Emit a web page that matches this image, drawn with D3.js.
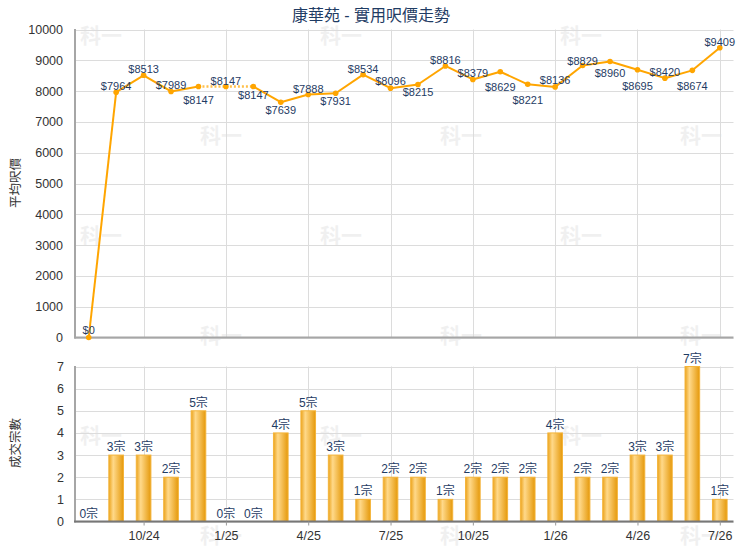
<!DOCTYPE html>
<html>
<head>
<meta charset="utf-8">
<script src="https://cdn.jsdelivr.net/npm/d3@7"></script>
<style>
  html, body { margin: 0; padding: 0; background: #fff; }
  svg { display: block; }
  text { font-family: "Liberation Sans", Arial, "Noto Sans CJK TC", sans-serif; }
</style>
</head>
<body>
<svg id="chart" width="740" height="550"></svg>
<script>
// ---------------- data ----------------
const months = ["8/24","9/24","10/24","11/24","12/24","1/25","2/25","3/25","4/25","5/25","6/25","7/25",
                "8/25","9/25","10/25","11/25","12/25","1/26","2/26","3/26","4/26","5/26","6/26","7/26"];
const avgPrice = [0,7964,8513,7989,8147,8147,8147,7639,7888,7931,8534,8096,
                  8215,8816,8379,8629,8221,8136,8829,8960,8695,8420,8674,9409];
const deals = [0,3,3,2,5,0,0,4,5,3,1,2,2,1,2,2,2,4,2,2,3,3,7,1];
const tickMonths = ["10/24","1/25","4/25","7/25","10/25","1/26","4/26","7/26"];
const priceTicks = [0,1000,2000,3000,4000,5000,6000,7000,8000,9000,10000];
const dealTicks = [0,1,2,3,4,5,6,7];
const titleText = "康華苑 - 實用呎價走勢";
const priceAxisTitle = "平均呎價";
const dealAxisTitle = "成交宗數";
const watermarkText = "科一";

// ---------------- layout ----------------
const W = 740, H = 550;
const left = 75, right = 733.5;
const top1 = 29.5, bot1 = 337.5;
const top2 = 366.5, bot2 = 521.5;
const navy = "#1f3c64";
const orange = "#ffa500";
// label vertical offsets (label centre relative to point), chosen to mimic placement
const labelDy = [-7,-6,-6,-6,13,-6,8,8,-6,8,-6,-7,8,-6,-6,15,16,-7,-5,12,16,-6,16,-6];

const svg = d3.select("#chart");
svg.append("rect").attr("width", W).attr("height", H).attr("fill", "#fff");

const x = d3.scalePoint().domain(months).range([left, right]).padding(0.5);
const xb = d3.scaleBand().domain(months).range([left, right]).paddingInner(0.43).paddingOuter(0.215);
const y1 = d3.scaleLinear().domain([0, 10000]).range([bot1, top1]);
const y2 = d3.scaleLinear().domain([0, 7]).range([bot2, top2]);

// gradient for bars
const defs = svg.append("defs");
const g = defs.append("linearGradient").attr("id", "barGrad").attr("x1", "0%").attr("x2", "100%").attr("y1", "0%").attr("y2", "0%");
g.append("stop").attr("offset", "0%").attr("stop-color", "#eba31c");
g.append("stop").attr("offset", "30%").attr("stop-color", "#ffd98a");
g.append("stop").attr("offset", "100%").attr("stop-color", "#e5990b");

// watermark (faint, tiled)
const wm = svg.append("g").attr("fill", "#000").attr("opacity", 0.055)
  .attr("font-size", 21).attr("font-weight", "bold").attr("text-anchor", "middle");
for (let r = 0; r < 6; r++) {
  for (let k = 0; k < 3; k++) {
    const cx = (r % 2 === 0 ? 101 : 221) + 240 * k;
    wm.append("text").attr("x", cx).attr("y", 35 + 100 * r).attr("dy", "0.36em")
      .style("font-family", '"Noto Sans CJK TC", sans-serif').text(watermarkText);
  }
}

// title
svg.append("text").attr("x", 371).attr("y", 15).attr("dy", "0.36em")
  .attr("text-anchor", "middle").attr("font-size", 16).attr("fill", navy).text(titleText);

// ---------- top chart grid ----------
const grid1 = svg.append("g");
grid1.selectAll("line.h").data(priceTicks).join("line")
  .attr("x1", left).attr("x2", right)
  .attr("y1", d => Math.round(y1(d)) + 0.5).attr("y2", d => Math.round(y1(d)) + 0.5)
  .attr("stroke", "#dcdcdc").attr("stroke-width", 1);
grid1.selectAll("line.v").data(tickMonths).join("line")
  .attr("x1", d => Math.round(x(d)) + 0.5).attr("x2", d => Math.round(x(d)) + 0.5)
  .attr("y1", top1).attr("y2", bot1)
  .attr("stroke", "#dcdcdc").attr("stroke-width", 1);

// top axis tick labels
svg.append("g").selectAll("text").data(priceTicks).join("text")
  .attr("x", 63).attr("y", d => y1(d)).attr("dy", "0.36em")
  .attr("text-anchor", "end").attr("font-size", 12.5).attr("fill", "#333")
  .text(d => d);

// axis lines top
svg.append("line").attr("x1", left).attr("x2", left).attr("y1", top1 - 0.5).attr("y2", bot1 + 1)
  .attr("stroke", "#a6a6a6").attr("stroke-width", 2);
svg.append("line").attr("x1", left - 1).attr("x2", right).attr("y1", bot1).attr("y2", bot1)
  .attr("stroke", "#a6a6a6").attr("stroke-width", 2);

// y title top
svg.append("text").attr("transform", `translate(15,183) rotate(-90)`).attr("dy", "0.36em")
  .attr("text-anchor", "middle").attr("font-size", 12.5).attr("fill", "#333").text(priceAxisTitle);

// line segments
const pts = months.map((m, i) => ({ m, i, v: avgPrice[i], x: x(m), y: y1(avgPrice[i]) }));
const segs = d3.pairs(pts);
const lineGen = d3.line().x(d => d.x).y(d => d.y);
svg.append("g").selectAll("path").data(segs).join("path")
  .attr("d", d => lineGen(d))
  .attr("fill", "none")
  .attr("stroke", d => deals[d[1].i] === 0 ? "#ffc04a" : orange)
  .attr("stroke-width", d => deals[d[1].i] === 0 ? 2.5 : 2)
  .attr("stroke-dasharray", d => deals[d[1].i] === 0 ? "2,2" : null);

svg.append("g").selectAll("circle").data(pts).join("circle")
  .attr("cx", d => d.x).attr("cy", d => d.y).attr("r", 2.8).attr("fill", orange);

svg.append("g").selectAll("text").data(pts).join("text")
  .attr("x", d => d.x).attr("y", d => d.y + labelDy[d.i]).attr("dy", "0.36em")
  .attr("text-anchor", "middle").attr("font-size", 11).attr("fill", navy)
  .text(d => "$" + d.v);

// ---------- bottom chart ----------
const grid2 = svg.append("g");
grid2.selectAll("line.h").data(dealTicks).join("line")
  .attr("x1", left).attr("x2", right)
  .attr("y1", d => Math.round(y2(d)) + 0.5).attr("y2", d => Math.round(y2(d)) + 0.5)
  .attr("stroke", "#dcdcdc").attr("stroke-width", 1);
grid2.selectAll("line.v").data(tickMonths).join("line")
  .attr("x1", d => Math.round(x(d)) + 0.5).attr("x2", d => Math.round(x(d)) + 0.5)
  .attr("y1", top2).attr("y2", bot2)
  .attr("stroke", "#dcdcdc").attr("stroke-width", 1);

// bars
svg.append("g").selectAll("rect").data(months).join("rect")
  .attr("x", d => xb(d) + 0.5).attr("width", xb.bandwidth() - 1)
  .attr("y", (d, i) => y2(deals[i])).attr("height", (d, i) => bot2 - y2(deals[i]))
  .attr("fill", "url(#barGrad)").attr("stroke", "#f4b43a").attr("stroke-width", 1);

svg.append("g").selectAll("text").data(months).join("text")
  .attr("x", d => x(d)).attr("y", (d, i) => y2(deals[i]) - 4)
  .attr("text-anchor", "middle").attr("font-size", 12).attr("fill", navy)
  .text((d, i) => deals[i] + "宗");

// axis lines bottom
svg.append("line").attr("x1", left).attr("x2", left).attr("y1", top2 - 0.5).attr("y2", bot2 + 1)
  .attr("stroke", "#a6a6a6").attr("stroke-width", 2);
svg.append("line").attr("x1", left - 1).attr("x2", right).attr("y1", bot2).attr("y2", bot2)
  .attr("stroke", "#777").attr("stroke-width", 2);

// x ticks bottom
const xAxis = d3.axisBottom(x).tickValues(tickMonths).tickSize(4).tickPadding(6);
const xa = svg.append("g").attr("transform", `translate(0,${bot2})`).call(xAxis);
xa.select(".domain").remove();
xa.selectAll(".tick line").attr("stroke", "#999");
xa.selectAll(".tick text").attr("font-size", 12.5).attr("fill", "#333")
  .style("font-family", '"Liberation Sans", Arial, sans-serif');

// y tick labels bottom
svg.append("g").selectAll("text").data(dealTicks).join("text")
  .attr("x", 64).attr("y", d => y2(d)).attr("dy", "0.36em")
  .attr("text-anchor", "end").attr("font-size", 12.5).attr("fill", "#333")
  .text(d => d);

svg.append("text").attr("transform", `translate(15,443) rotate(-90)`).attr("dy", "0.36em")
  .attr("text-anchor", "middle").attr("font-size", 12.5).attr("fill", "#333").text(dealAxisTitle);
</script>
</body>
</html>
